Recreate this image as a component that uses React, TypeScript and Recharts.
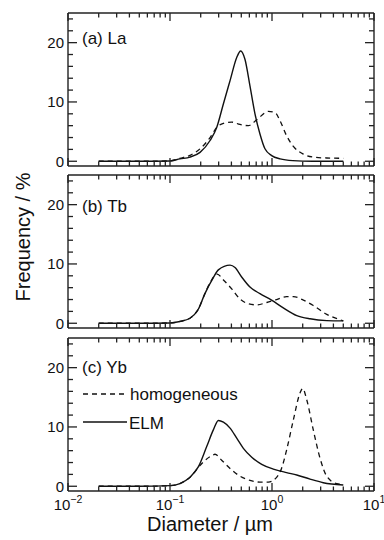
import React from 'react';
import { LineChart, Line, XAxis, YAxis } from 'recharts';

type P = [number, number];

// Diameter (µm) vs frequency (%)
const laElm: P[] = [[0.02,0],[0.05,0],[0.1,0.05],[0.125,0.4],[0.157,0.7],[0.197,1.5],[0.247,3.5],[0.287,5.7],[0.334,9.7],[0.388,13.6],[0.451,17.5],[0.493,18.6],[0.543,17.2],[0.608,12.7],[0.681,8.0],[0.762,4.6],[0.853,2.1],[0.993,0.96],[1.2,0.4],[1.6,0.1],[2.5,0],[5,0]];
const laHom: P[] = [[0.02,0],[0.05,0],[0.1,0.05],[0.125,0.5],[0.157,1.0],[0.197,2.1],[0.247,4.0],[0.287,5.7],[0.334,6.4],[0.403,6.6],[0.485,6.2],[0.586,6.0],[0.708,7.0],[0.92,8.4],[1.07,8.2],[1.2,6.8],[1.39,4.3],[1.62,2.5],[2.03,1.2],[2.54,0.7],[3.43,0.55],[5,0.5]];
const tbElm: P[] = [[0.02,0],[0.05,0],[0.1,0.05],[0.125,0.3],[0.157,0.85],[0.19,2.4],[0.22,5.0],[0.266,7.7],[0.298,9.0],[0.388,9.8],[0.434,9.4],[0.504,7.8],[0.608,6.1],[0.762,5.0],[0.99,3.9],[1.29,2.6],[1.75,1.3],[2.36,0.75],[3.44,0.45],[5,0.4]];
const tbHom: P[] = [[0.02,0],[0.05,0],[0.1,0.05],[0.125,0.3],[0.157,0.85],[0.19,2.4],[0.22,5.0],[0.25,7.0],[0.29,8.3],[0.334,7.3],[0.403,5.8],[0.485,4.1],[0.586,3.3],[0.708,3.1],[0.888,3.5],[1.11,4.0],[1.39,4.5],[1.62,4.5],[2.03,3.9],[2.54,3.0],[3.44,1.5],[4.64,0.6],[5,0.4]];
const ybElm: P[] = [[0.02,0],[0.05,0],[0.1,0.1],[0.125,0.45],[0.157,1.5],[0.19,3.3],[0.229,6.7],[0.266,9.5],[0.298,11.1],[0.334,10.8],[0.388,9.8],[0.451,8.1],[0.524,6.4],[0.633,4.9],[0.793,3.7],[1.03,2.9],[1.39,2.3],[1.75,1.9],[2.36,1.2],[3.18,0.6],[5,0.2]];
const ybHom: P[] = [[0.02,0],[0.05,0],[0.1,0.1],[0.125,0.45],[0.157,1.5],[0.19,3.2],[0.212,4.1],[0.266,5.3],[0.276,5.4],[0.321,4.4],[0.388,3.0],[0.485,1.7],[0.608,1.0],[0.762,0.7],[0.92,0.7],[1.11,1.5],[1.24,3.0],[1.39,6.1],[1.62,11.2],[1.88,15.7],[2.0,16.5],[2.19,14.6],[2.54,9.5],[2.96,4.7],[3.44,1.7],[4.3,0.45],[5,0.3]];

const xTicks = [0.01,0.02,0.03,0.04,0.05,0.06,0.07,0.08,0.09,0.1,0.2,0.3,0.4,0.5,0.6,0.7,0.8,0.9,1,2,3,4,5,6,7,8,9,10];
const xLabelTicks = [0.01, 0.1, 1, 10];
const yTicks = [0,2,4,6,8,10,12,14,16,18,20,22,24];
const yLabelTicks = [0, 10, 20];

const panelNames = ['(a) La', '(b) Tb', '(c) Yb'];
const seriesNames = ['homogeneous', 'ELM'];

const FONT = '"Liberation Sans", Arial, Helvetica, sans-serif';
const FRAME = '#222';
const INK = '#111';
const PLOT_H = 153;
const TOP_AXIS_H = 4;
const X_DOMAIN: [number, number] = [0.01, 10];
const Y_DOMAIN: [number, number] = [-0.8, 25];

const toPts = (a: P[]) => a.map(([d, f]) => ({ d, f }));

const isMajorX = (v: number) => xLabelTicks.some((t) => Math.abs(t - v) < 1e-9);
const exponentOf = (v: number) => Math.round(Math.log10(v));

const makeXTick = (side: 'bottom' | 'top', showLabels: boolean) => (props: any) => {
  const { x, y, payload } = props;
  const v = Number(payload.value);
  const major = isMajorX(v);
  const len = major ? 8 : 4.5;
  const dir = side === 'bottom' ? -1 : 1;
  const e = exponentOf(v);
  const yy = Number(y);
  const xx = Number(x);
  return (
    <g>
      <path d={`M${xx},${yy}L${xx},${yy + dir * len}`} stroke={FRAME} strokeWidth={1.3} fill="none" />
      {showLabels && major && (
        <text x={xx} y={yy + 19} textAnchor="middle" fontSize={15} fontFamily={FONT} fill={INK}>
          10
          <tspan dy={-7} fontSize={10.5}>{e < 0 ? '\u2212' + -e : String(e)}</tspan>
        </text>
      )}
    </g>
  );
};

const makeYTick = (side: 'left' | 'right') => (props: any) => {
  const { x, y, payload } = props;
  const v = Number(payload.value);
  const major = yLabelTicks.includes(v);
  const len = major ? 9 : 5;
  const dir = side === 'left' ? 1 : -1;
  const yy = Number(y);
  const xx = Number(x);
  return (
    <g>
      <path d={`M${xx},${yy}L${xx + dir * len},${yy}`} stroke={FRAME} strokeWidth={1.3} fill="none" />
      {side === 'left' && major && (
        <text x={xx - 4} y={yy + 5.5} textAnchor="end" fontSize={15} fontFamily={FONT} fill={INK}>
          {v}
        </text>
      )}
    </g>
  );
};

const axisLine = { stroke: FRAME, strokeWidth: 1.4 };

function Panel({ top, elm, hom, bottomH, showX }: { top: number; elm: P[]; hom: P[]; bottomH: number; showX: boolean }) {
  return (
    <div style={{ position: 'absolute', left: 0, top: top - TOP_AXIS_H }}>
      <LineChart width={384} height={TOP_AXIS_H + PLOT_H + bottomH} margin={{ top: 0, right: 0, bottom: 0, left: 0 }}>
        <XAxis xAxisId="b" dataKey="d" type="number" scale="log" domain={X_DOMAIN} allowDataOverflow ticks={xTicks} interval={0} tickSize={0} tickMargin={0} tickLine={false} axisLine={axisLine} height={bottomH} tick={makeXTick('bottom', showX)}
          label={showX ? { value: 'Diameter / \u00b5m', position: 'insideBottom', offset: 8, dx: -11, fontSize: 20, fill: INK, fontFamily: FONT } : undefined} />
        <XAxis xAxisId="t" orientation="top" dataKey="d" type="number" scale="log" domain={X_DOMAIN} allowDataOverflow ticks={xTicks} interval={0} tickSize={0} tickMargin={0} tickLine={false} axisLine={axisLine} height={TOP_AXIS_H} tick={makeXTick('top', false)} />
        <YAxis yAxisId="l" type="number" domain={Y_DOMAIN} allowDataOverflow ticks={yTicks} interval={0} tickSize={0} tickMargin={0} tickLine={false} axisLine={axisLine} width={68} tick={makeYTick('left')} />
        <YAxis yAxisId="r" orientation="right" type="number" domain={Y_DOMAIN} allowDataOverflow ticks={yTicks} interval={0} tickSize={0} tickMargin={0} tickLine={false} axisLine={axisLine} width={10} tick={makeYTick('right')} />
        <Line xAxisId="b" yAxisId="l" data={toPts(hom)} dataKey="f" name={seriesNames[0]} type="monotone" stroke={INK} strokeWidth={1.3} strokeDasharray="5 4" dot={false} activeDot={false} isAnimationActive={false} />
        <Line xAxisId="b" yAxisId="l" data={toPts(elm)} dataKey="f" name={seriesNames[1]} type="monotone" stroke={INK} strokeWidth={1.4} dot={false} activeDot={false} isAnimationActive={false} />
      </LineChart>
    </div>
  );
}

export default function App() {
  return (
    <div style={{ position: 'absolute', left: 0, top: 0, width: 384, height: 540, background: '#fff', fontFamily: FONT }}>
      <Panel top={13} elm={laElm} hom={laHom} bottomH={4} showX={false} />
      <Panel top={175} elm={tbElm} hom={tbHom} bottomH={4} showX={false} />
      <Panel top={338} elm={ybElm} hom={ybHom} bottomH={48} showX={true} />
      <svg width={384} height={540} style={{ position: 'absolute', left: 0, top: 0, pointerEvents: 'none' }}>
        <text transform="translate(30,237) rotate(-90)" textAnchor="middle" fontSize={20} fontFamily={FONT} fill={INK}>
          Frequency / %
        </text>
        <text x={82} y={44} fontSize={17} fontFamily={FONT} fill={INK}>{panelNames[0]}</text>
        <text x={82} y={212} fontSize={17} fontFamily={FONT} fill={INK}>{panelNames[1]}</text>
        <text x={82} y={373} fontSize={17} fontFamily={FONT} fill={INK}>{panelNames[2]}</text>
        <line x1={83} x2={125} y1={394} y2={394} stroke={INK} strokeWidth={1.3} strokeDasharray="5 4" />
        <text x={130} y={400} fontSize={17} fontFamily={FONT} fill={INK}>{seriesNames[0]}</text>
        <line x1={83} x2={127} y1={422} y2={422} stroke={INK} strokeWidth={1.4} />
        <text x={129} y={429} fontSize={17} fontFamily={FONT} fill={INK}>{seriesNames[1]}</text>
      </svg>
    </div>
  );
}
